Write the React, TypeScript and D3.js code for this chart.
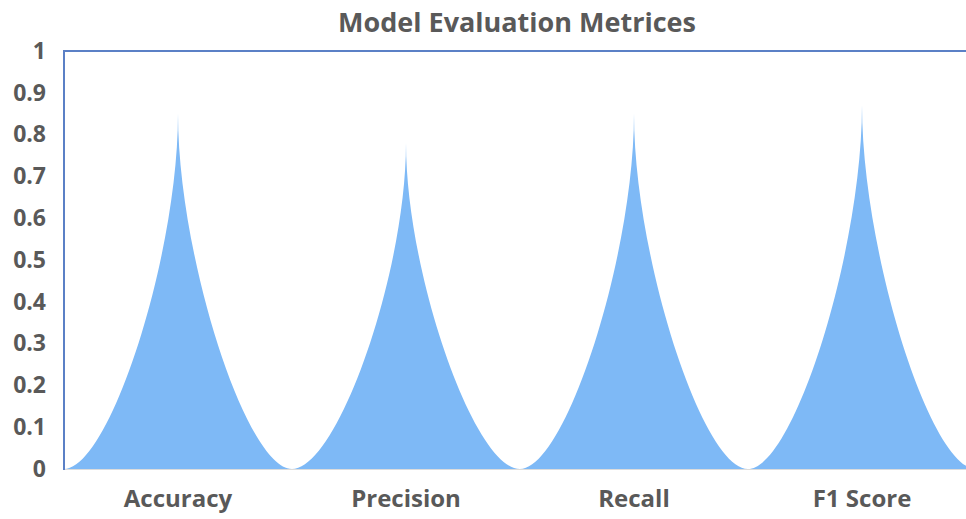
import { useEffect, useRef } from "react";
import * as d3 from "d3";

const metrics = ["Accuracy", "Precision", "Recall", "F1 Score"];
const scores = [0.85, 0.78, 0.85, 0.87];
const yTicks = [0, 0.1, 0.2, 0.3, 0.4, 0.5, 0.6, 0.7, 0.8, 0.9, 1];
const chartTitle = "Model Evaluation Metrices";

/* Draws the spike (pictorial) bar chart */
function SpikeChart() {
    const svgRef = useRef<SVGSVGElement>(null);
    const width = 966;
    const height = 519;
    var margin = {
        top: 51,
        bottom: 50,
        left: 64,
        right: -10 // last band runs past the right edge
    };
    const textColor = "#595959";
    const font = "'Open Sans', 'Noto Sans', sans-serif";

    useEffect(() => {
        const svg = d3.select(svgRef.current);
        svg.selectAll("*").remove();

        const xScale = d3.scaleBand<string>()
            .domain(metrics)
            .range([margin.left, width - margin.right])
            .padding(0);

        const yScale = d3.scaleLinear()
            .domain([0, 1])
            .range([height - margin.bottom, margin.top]);

        // title
        svg.append("text")
            .attr("x", 517)
            .attr("y", 32)
            .attr("text-anchor", "middle")
            .attr("font-family", font)
            .attr("font-weight", 700)
            .attr("font-size", 27)
            .attr("fill", textColor)
            .text(chartTitle);

        // base line
        svg.append("line")
            .attr("x1", margin.left)
            .attr("x2", width)
            .attr("y1", yScale(0) + 0.5)
            .attr("y2", yScale(0) + 0.5)
            .attr("stroke", "#dcdcdc")
            .attr("stroke-width", 1);

        // spikes: concave curves from band edges to a point at the value
        const a = 0.6; // control point shape
        const spike = (d: number, i: number) => {
            const x0 = xScale(metrics[i]) as number;
            const bw = xScale.bandwidth();
            const hw = bw / 2;
            const cx = x0 + hw;
            const y0 = yScale(0);
            const yp = yScale(d);
            const h = y0 - yp;
            const p = d3.path();
            p.moveTo(x0, y0);
            p.bezierCurveTo(cx - a * hw, y0, cx, y0 - a * h, cx, yp);
            p.bezierCurveTo(cx, y0 - a * h, cx + a * hw, y0, x0 + bw, y0);
            p.closePath();
            return p.toString();
        };

        svg.append("g")
            .selectAll("path")
            .data(scores)
            .enter()
            .append("path")
            .attr("d", (d, i) => spike(d, i))
            .attr("fill", "#7eb9f6");

        // y axis labels
        const yAxis = (g: any) => {
            g.attr("transform", `translate(${margin.left}, 0)`)
                .call(d3.axisLeft(yScale).tickValues(yTicks).tickSize(0).tickPadding(18).tickFormat(d3.format("~g")));
            g.select(".domain").remove();
            g.selectAll("text")
                .attr("font-family", font)
                .attr("font-weight", 700)
                .attr("font-size", 23)
                .attr("fill", textColor);
        };
        svg.append("g").call(yAxis);

        // x axis labels
        const xAxis = (g: any) => {
            g.attr("transform", `translate(0, ${height - margin.bottom})`)
                .call(d3.axisBottom(xScale).tickSize(0).tickPadding(21));
            g.select(".domain").remove();
            g.selectAll("text")
                .attr("font-family", font)
                .attr("font-weight", 700)
                .attr("font-size", 24)
                .attr("fill", textColor);
        };
        svg.append("g").call(xAxis);

        // plot border (top and left)
        svg.append("path")
            .attr("d", `M${width},${yScale(1)} H${margin.left} V${yScale(0) + 1}`)
            .attr("fill", "none")
            .attr("stroke", "#5b80c6")
            .attr("stroke-width", 2);
    }, []);

    return (
        <svg
            ref={svgRef}
            width={width}
            height={height}
            style={{ position: "absolute", left: 0, top: 0, background: "#fff" }}
        ></svg>
    );
}

export default function App() {
    return <SpikeChart />;
}
